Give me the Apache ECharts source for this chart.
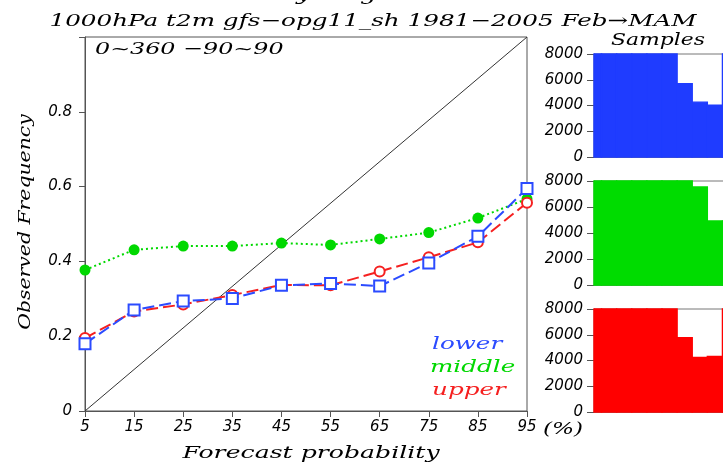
<!DOCTYPE html>
<html>
<head>
<meta charset="utf-8">
<style>
  html, body { margin: 0; padding: 0; background: #fff; overflow: hidden; }
  /* the sample panels run a few pixels past the right edge of the page */
  #chart { width: 730px; height: 465px; }
</style>
<script src="https://cdn.jsdelivr.net/npm/echarts@6/dist/echarts.min.js"></script>
</head>
<body>
<div id="chart"></div>
<script>
// Forecast probability bins (%)
const categories = ['5', '15', '25', '35', '45', '55', '65', '75', '85', '95'];

// Observed frequency per bin for each tercile category
const lowerFreq  = [0.180, 0.270, 0.294, 0.301, 0.336, 0.341, 0.334, 0.396, 0.467, 0.595];
const middleFreq = [0.377, 0.431, 0.441, 0.441, 0.449, 0.444, 0.460, 0.477, 0.516, 0.567];
const upperFreq  = [0.195, 0.266, 0.285, 0.310, 0.337, 0.336, 0.373, 0.411, 0.451, 0.557];

// Perfect-reliability reference from corner to corner
const diagonal = [['5', 0], ['95', 1]];

// Sample counts per bin (panel tops out at 8000)
const lowerSamples  = [8000, 8000, 8000, 8000, 8000, 8000, 5700, 4260, 4020, 8000];
const middleSamples = [8000, 8000, 8000, 8000, 8000, 8000, 8000, 7540, 4930, 4900];
const upperSamples  = [8000, 8000, 8000, 8000, 8000, 8000, 5770, 4240, 4320, 8000];

const freqTicks = [0, 0.2, 0.4, 0.6, 0.8];
const BIN_WIDTH = 10;

const BLUE = '#2b4bff', GREEN = '#00d800', RED = '#f52020';
const BAR_BLUE = '#1f3cff', BAR_GREEN = '#00dc00', BAR_RED = '#ff0000';
const AXIS = '#555';
const SERIF = '"DejaVu Serif", "Liberation Serif", serif';
const SANS = '"DejaVu Sans", "Liberation Sans", sans-serif';
const STRETCH = 1.45;

function label(text, x, y, size, opts) {
  opts = opts || {};
  return {
    type: 'text', x: x, y: y,
    scaleX: opts.scaleX || STRETCH, scaleY: 1,
    rotation: opts.rotation || 0,
    silent: true, z: 100,
    style: {
      text: text,
      font: 'italic ' + size + 'px ' + (opts.family || SERIF),
      fill: opts.color || '#000',
      textAlign: opts.align || 'center',
      textVerticalAlign: opts.valign || 'middle'
    }
  };
}

const histGrids = [
  { left: 594, top: 54, width: 136, height: 103 },
  { left: 594, top: 181, width: 136, height: 104 },
  { left: 594, top: 309, width: 136, height: 103 }
];

const chart = echarts.init(document.getElementById('chart'), null, { renderer: 'canvas' });

const grid = [{ left: 85, top: 37, width: 442, height: 374, show: true, borderColor: AXIS, borderWidth: 1, backgroundColor: 'transparent' }]
  .concat(histGrids.map(g => Object.assign({ show: true, borderColor: '#777', borderWidth: 1, backgroundColor: 'transparent' }, g)));

const xAxis = [{
  gridIndex: 0, type: 'category', data: categories, boundaryGap: false,
  axisLine: { lineStyle: { color: AXIS, width: 1 } },
  axisTick: { show: true, inside: false, length: 6, lineStyle: { color: AXIS } },
  axisLabel: { margin: 9, color: '#000', fontFamily: SANS, fontStyle: 'italic', fontSize: 15 },
  splitLine: { show: false }
}].concat([1, 2, 3].map(i => ({
  gridIndex: i, type: 'value',
  min: Number(categories[0]), max: Number(categories[categories.length - 1]),
  axisLine: { lineStyle: { color: '#777' } },
  axisTick: { show: false }, axisLabel: { show: false }, splitLine: { show: false }
})));

const yAxis = [{
  gridIndex: 0, type: 'value', min: 0, max: 1, interval: 0.2,
  axisLine: { show: true, lineStyle: { color: AXIS, width: 1 } },
  axisTick: { show: true, inside: false, length: 6, lineStyle: { color: AXIS } },
  axisLabel: {
    margin: 13, color: '#000', fontFamily: SANS, fontStyle: 'italic', fontSize: 15,
    formatter: v => freqTicks.some(t => Math.abs(t - v) < 1e-9) ? (v === 0 ? '0' : v.toFixed(1)) : ''
  },
  splitLine: { show: false }
}].concat([1, 2, 3].map(i => ({
  gridIndex: i, type: 'value', min: 0, max: 8000, interval: 2000,
  axisLine: { show: true, lineStyle: { color: '#777' } },
  axisTick: { show: true, inside: false, length: 7, lineStyle: { color: '#555' } },
  axisLabel: {
    margin: 11, color: '#000', fontFamily: SANS, fontStyle: 'italic', fontSize: 15,
    formatter: v => String(v)
  },
  splitLine: { show: false }
})));

// Step histogram: each bin spans +/- half a bin around its centre, clipped to the panel
function histSeries(idx, counts, color) {
  return {
    type: 'custom', xAxisIndex: idx, yAxisIndex: idx, silent: true, z: 2,
    data: counts.map((c, i) => [Number(categories[i]), c]),
    renderItem: function (params, api) {
      const centre = api.value(0), count = api.value(1);
      const p0 = api.coord([centre - BIN_WIDTH / 2, count]);
      const p1 = api.coord([centre + BIN_WIDTH / 2, 0]);
      const cs = params.coordSys;
      const shape = echarts.graphic.clipRectByRect(
        { x: p0[0], y: p0[1], width: p1[0] - p0[0], height: p1[1] - p0[1] },
        { x: cs.x, y: cs.y, width: cs.width, height: cs.height }
      );
      return shape && {
        type: 'rect', shape: shape,
        style: { fill: color, stroke: color, lineWidth: 1.4 }
      };
    }
  };
}

const series = [
  {
    type: 'line', data: diagonal, symbol: 'none', silent: true, z: 1,
    lineStyle: { color: '#333', width: 1 }
  },
  {
    name: 'middle', type: 'line', data: middleFreq, z: 3,
    symbol: 'circle', symbolSize: 11,
    itemStyle: { color: GREEN },
    lineStyle: { color: GREEN, width: 2, type: [2, 3] }
  },
  {
    name: 'upper', type: 'line', data: upperFreq, z: 4,
    symbol: 'emptyCircle', symbolSize: 10,
    itemStyle: { color: RED, borderColor: RED, borderWidth: 1.6 },
    lineStyle: { color: RED, width: 2, type: [12, 5] }
  },
  {
    name: 'lower', type: 'line', data: lowerFreq, z: 5,
    symbol: 'emptyRect', symbolSize: 11,
    itemStyle: { color: BLUE, borderColor: BLUE, borderWidth: 1.6 },
    lineStyle: { color: BLUE, width: 2, type: [12, 5] }
  },
  histSeries(1, lowerSamples, BAR_BLUE),
  histSeries(2, middleSamples, BAR_GREEN),
  histSeries(3, upperSamples, BAR_RED)
];

const graphic = [
  label('Reliability diagram', 303, -5, 18),
  label('1000hPa t2m gfs\u2212opg11_sh 1981\u22122005 Feb\u2192MAM', 373, 22, 17),
  label('0~360 \u221290~90', 95, 50, 17, { align: 'left', scaleX: 1.4 }),
  label('Samples', 658, 41, 17, { scaleX: 1.29 }),
  label('Observed Frequency', 26, 222, 17, { rotation: Math.PI / 2, scaleX: 1.2 }),
  label('Forecast probability', 311, 454, 17, { scaleX: 1.48 }),
  label('(%)', 543, 430, 16, { align: 'left' }),
  label('lower', 432, 345, 17, { align: 'left', color: BLUE }),
  label('middle', 430, 368, 17, { align: 'left', color: GREEN }),
  label('upper', 432, 391, 17, { align: 'left', color: RED })
];

chart.setOption({
  animation: false,
  backgroundColor: '#fff',
  grid: grid,
  xAxis: xAxis,
  yAxis: yAxis,
  series: series,
  graphic: graphic
});
</script>
</body>
</html>
